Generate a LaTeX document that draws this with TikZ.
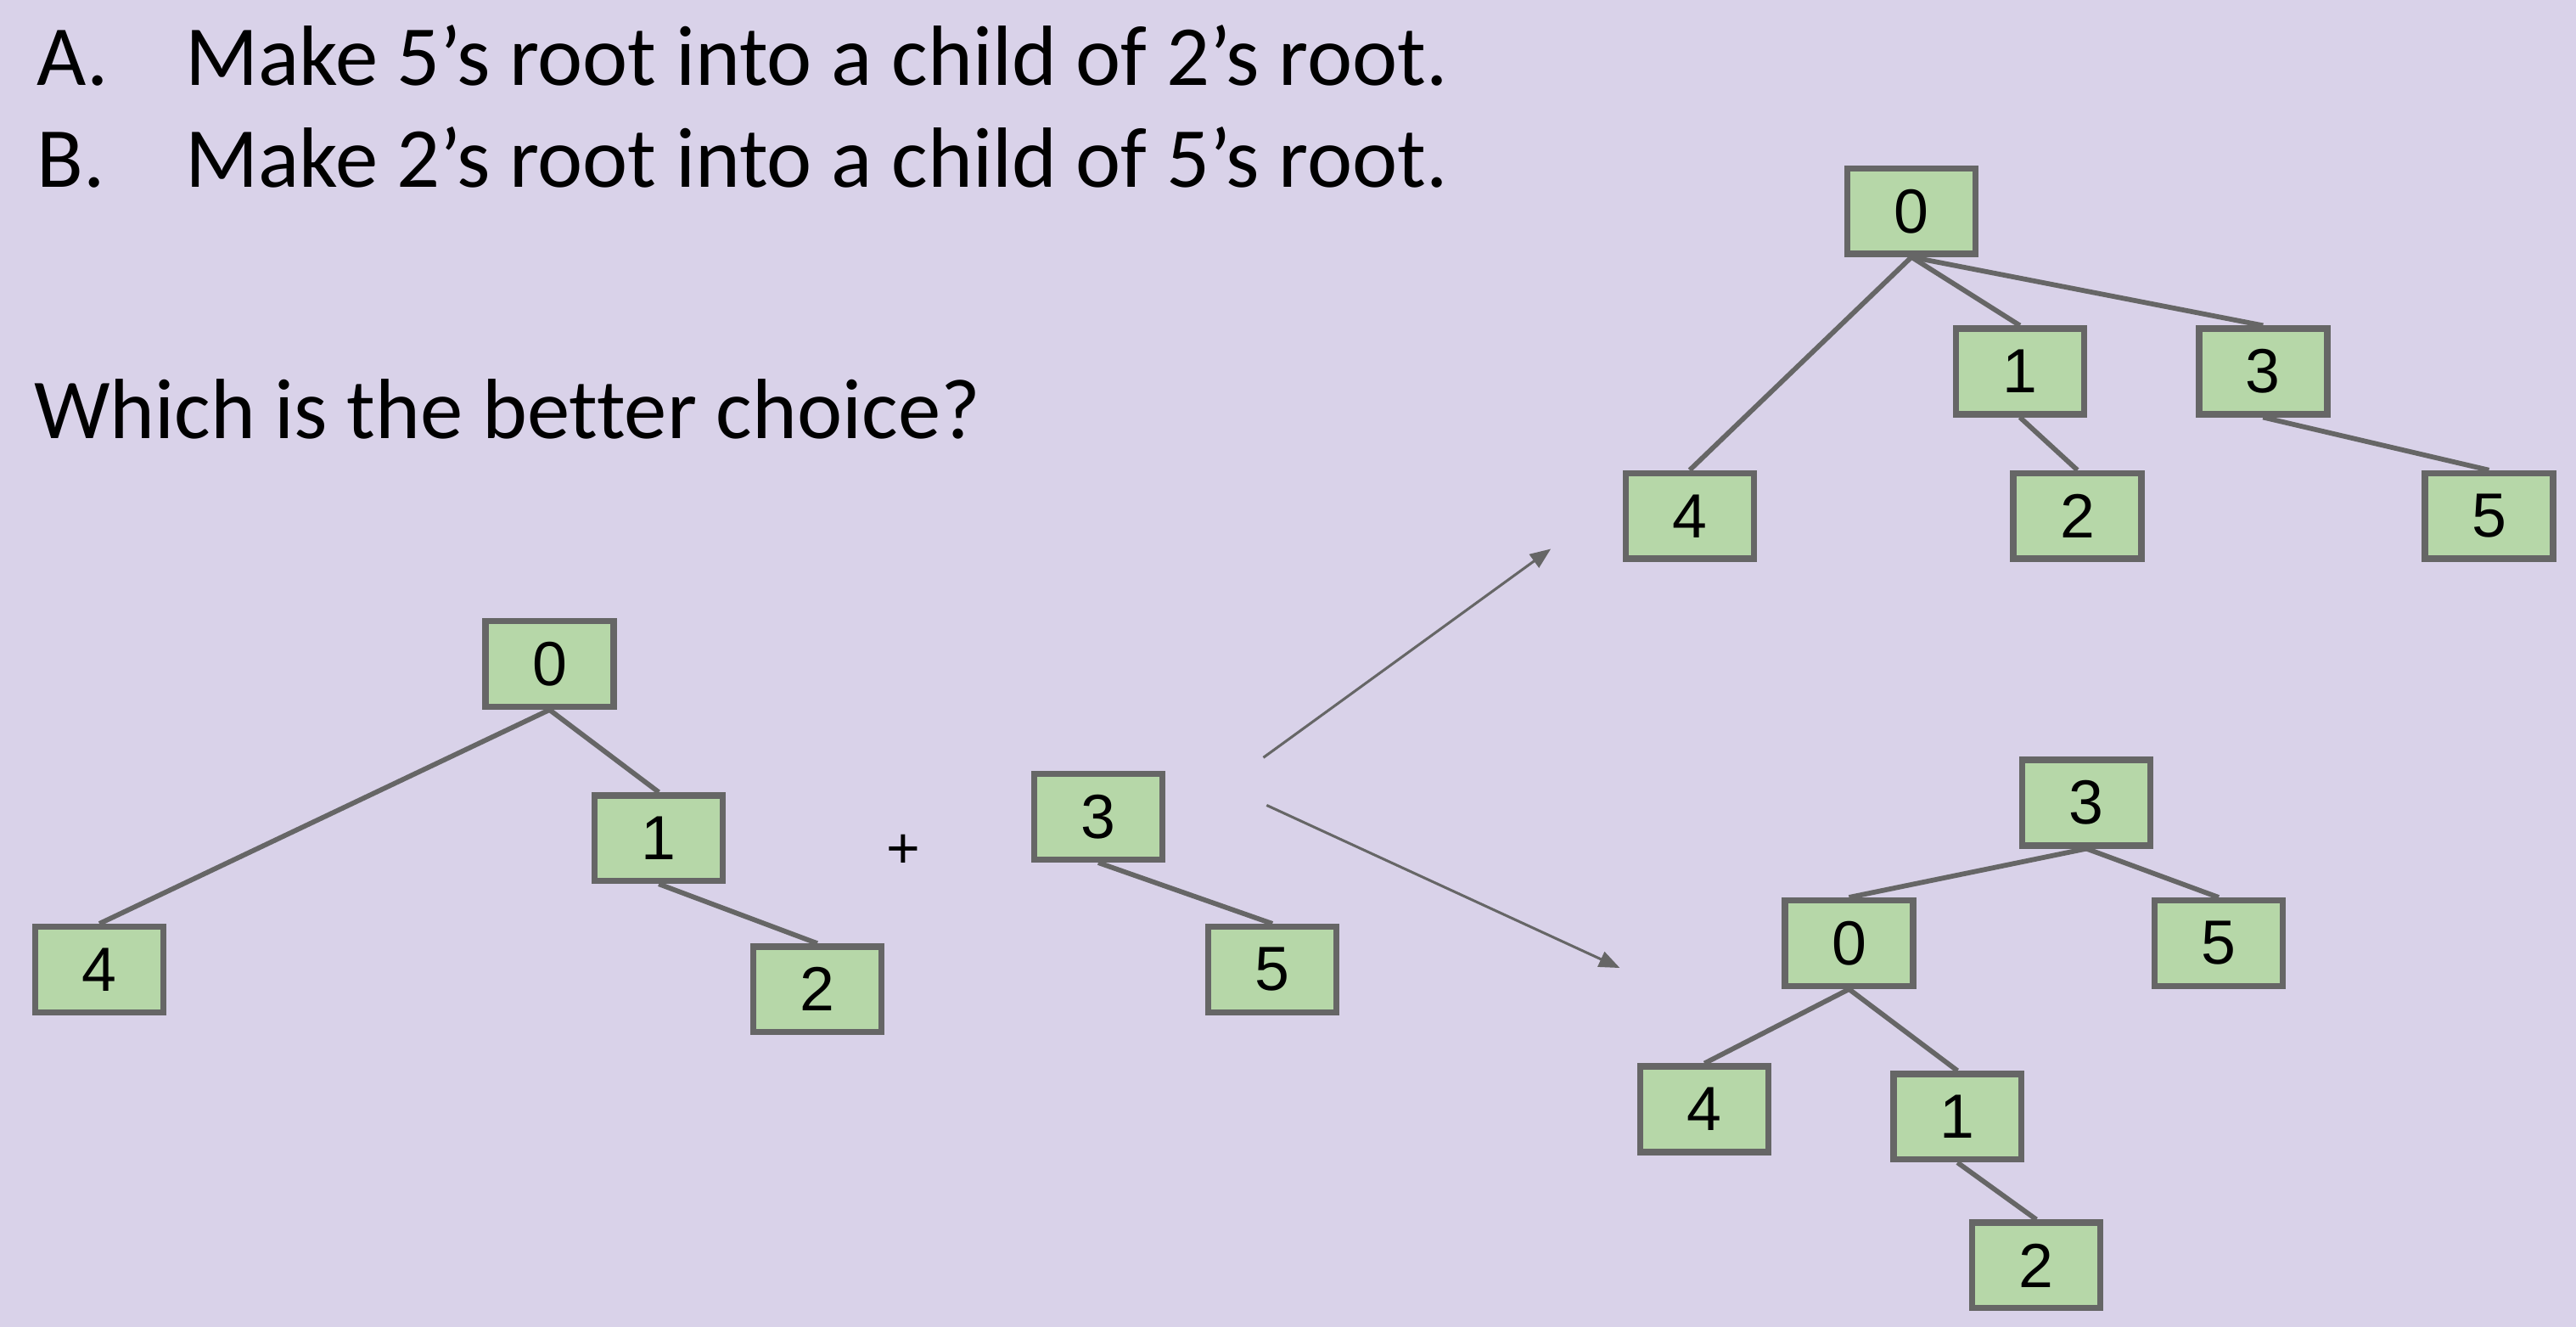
\documentclass[tikz,border=0pt]{standalone}
\usepackage{fontspec}
\setmainfont[Ligatures=NoCommon]{Carlito}
\newfontfamily\boxfont{Liberation Sans}
\usepackage{xcolor}
\definecolor{colorBack}{HTML}{D9D2E9}
\definecolor{colorBox}{HTML}{B6D7A8}
\definecolor{colorLine}{HTML}{666666}
\usetikzlibrary{arrows.meta, positioning}
\tikzset{
  treebox/.style={draw=colorLine, line width=1.1pt, fill=colorBox, inner sep=0pt,
    minimum width=7.8mm, minimum height=5.2mm, font=\boxfont\fontsize{10.8}{12}\selectfont},
  treeedge/.style={draw=colorLine, line width=0.85pt},
  movearrow/.style={draw=colorLine, line width=0.45pt, -{Triangle[length=3.6pt, width=2.8pt]}},
  slidetext/.style={anchor=base west, inner sep=0pt, font=\fontsize{14.8}{17}\selectfont}
}

\begin{document}
\begin{tikzpicture}[x=0.1mm, y=-0.1mm]
\useasboundingbox[fill=colorBack] (0,0) rectangle (1568,807.5);
% question
\node[slidetext] (la) at (22,52) {A.};
\node[slidetext] (ta) at (112,52) {Make 5’s root into a child of 2’s root.};
\node[slidetext] (lb) at (22,114) {B.};
\node[slidetext] (tb) at (112,114) {Make 2’s root into a child of 5’s root.};
\node[slidetext] (which) at (20,267) {Which is the better choice?};
% left trees
\node[treebox] (a0) at (334.5,404) {0};
\node[treebox] (a1) at (401,510) {1};
\node[treebox] (a4) at (60.5,590) {4};
\node[treebox] (a2) at (497.5,602) {2};
\node[font=\boxfont\fontsize{10}{12}\selectfont] (plus) at (550,518) {+};
\node[treebox] (a3) at (668.5,497) {3};
\node[treebox] (a5) at (774.5,590) {5};
\draw[treeedge] (a0.south) -- (a4.north);
\draw[treeedge] (a0.south) -- (a1.north);
\draw[treeedge] (a1.south) -- (a2.north);
\draw[treeedge] (a3.south) -- (a5.north);
% choice A
\node[treebox] (t0) at (1163.5,128.5) {0};
\node[treebox] (t1) at (1229.5,226) {1};
\node[treebox] (t3) at (1377.5,226) {3};
\node[treebox] (t4) at (1028.5,314) {4};
\node[treebox] (t2) at (1264.5,314) {2};
\node[treebox] (t5) at (1515,314) {5};
\draw[treeedge] (t0.south) -- (t4.north);
\draw[treeedge] (t0.south) -- (t1.north);
\draw[treeedge] (t0.south) -- (t3.north);
\draw[treeedge] (t1.south) -- (t2.north);
\draw[treeedge] (t3.south) -- (t5.north);
% choice B
\node[treebox] (b3) at (1270,488.5) {3};
\node[treebox] (b0) at (1125.5,574) {0};
\node[treebox] (b5) at (1350.5,574) {5};
\node[treebox] (b4) at (1037.5,675) {4};
\node[treebox] (b1) at (1191.5,679.5) {1};
\node[treebox] (b2) at (1239.5,770) {2};
\draw[treeedge] (b3.south) -- (b0.north);
\draw[treeedge] (b3.south) -- (b5.north);
\draw[treeedge] (b0.south) -- (b4.north);
\draw[treeedge] (b0.south) -- (b1.north);
\draw[treeedge] (b1.south) -- (b2.north);
% arrows
\coordinate (upfrom) at (769,461);
\coordinate (upto) at (944,334);
\coordinate (downfrom) at (771,490);
\coordinate (downto) at (986,589);
\draw[movearrow] (upfrom) -- (upto);
\draw[movearrow] (downfrom) -- (downto);
\end{tikzpicture}
\end{document}
